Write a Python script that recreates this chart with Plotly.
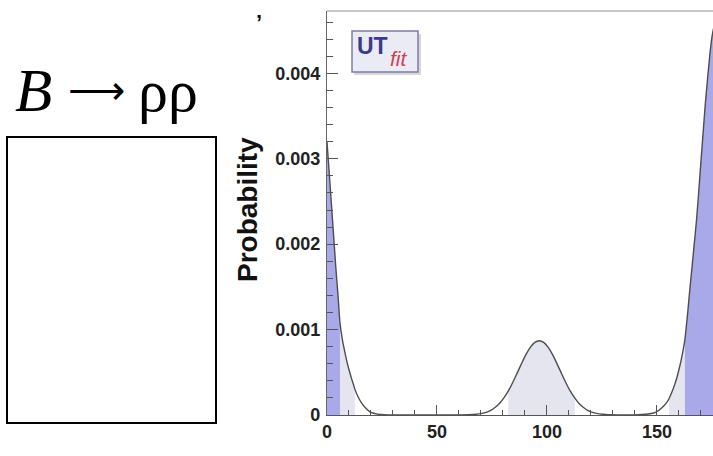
import plotly.graph_objects as go

# ---- data ----
alpha = [0, 1, 2, 3, 4, 5, 5.9, 7, 8, 9, 10, 11, 12, 12.7, 14, 16, 18, 20, 23, 26, 30,
         40, 50, 60, 66.5, 71.5, 74.5, 76.5, 78.5, 80.5, 82.4, 84.5, 86.5, 88.5, 90.5,
         92.5, 94.5, 96.5, 98.5, 100.5, 102.5, 104.5, 106.5, 108.5, 110.5, 112.7, 114.5,
         116.5, 118.5, 121.5, 126.5, 135, 140, 145, 148, 150, 152, 154, 155.5, 157, 158,
         159, 160, 161, 162, 162.7, 164, 165, 166, 167, 168, 169, 170, 171, 172, 173,
         174, 175, 176, 177, 178, 179, 180]
prob = [0.00320, 0.00284, 0.00247, 0.00210, 0.00173, 0.00140, 0.00108, 0.00088, 0.00075,
        0.00063, 0.00053, 0.00044, 0.00036, 0.00030, 0.00022, 0.00013, 0.00007, 0.00003,
        0.00001, 0.000003, 0.0,
        0.0, 0.0, 0.000001, 0.000005, 0.000025, 0.0000555, 0.00009, 0.000138, 0.000203,
        0.00028, 0.000384, 0.000493, 0.000605, 0.000709, 0.000794, 0.00085, 0.00087,
        0.00085, 0.000794, 0.000709, 0.000605, 0.000493, 0.000384, 0.000285, 0.000197,
        0.000138, 0.00009, 0.0000555, 0.000025, 0.000005, 0.0, 0.000002, 0.000008,
        0.00002, 0.00004, 0.00008, 0.00013, 0.00019, 0.00028, 0.00035, 0.00043, 0.00053,
        0.00064, 0.00077, 0.00088, 0.00120, 0.00148, 0.00174, 0.00201, 0.00228, 0.00261,
        0.00296, 0.00330, 0.00364, 0.00393, 0.00420, 0.00442, 0.00455, 0.00460, 0.00445,
        0.00400, 0.00320]

# credible-interval boundaries (degrees) read from the shading
dark_intervals = [(0, 5.9), (162.7, 180)]
light_intervals = [(5.9, 12.7), (82.4, 112.7), (155.5, 162.7)]

x_ticks = [0, 50, 100, 150]
y_ticks = [0, 0.001, 0.002, 0.003, 0.004]
y_tick_labels = ["0", "0.001", "0.002", "0.003", "0.004"]

DARK = "#a9a9ea"
LIGHT = "#e5e5ef"
LINE = "#4d4d4d"

fig = go.Figure()


def add_band(lo, hi, color):
    xs = [a for a in alpha if lo <= a <= hi]
    ys = [p for a, p in zip(alpha, prob) if lo <= a <= hi]
    fig.add_trace(go.Scatter(x=xs, y=ys, mode="lines", fill="tozeroy",
                             fillcolor=color, line=dict(width=0, color=color, shape="spline", smoothing=0.6),
                             hoverinfo="skip", showlegend=False))


for lo, hi in light_intervals:
    add_band(lo, hi, LIGHT)
for lo, hi in dark_intervals:
    add_band(lo, hi, DARK)

fig.add_trace(go.Scatter(x=alpha, y=prob, mode="lines",
                         line=dict(color=LINE, width=1.4, shape="spline", smoothing=0.6),
                         showlegend=False))

W, H = 713, 456
L, R, T, B = 327, 0, 11, 41
PW, PH = W - L - R, H - T - B


def px(xp):
    return (xp - L) / PW


def py(yp):
    return (H - B - yp) / PH


tickfont = dict(family="Liberation Sans, Arial, sans-serif", size=18, color="#222", weight="bold")

fig.update_layout(
    width=W, height=H,
    margin=dict(l=L, r=R, t=T, b=B, pad=0),
    paper_bgcolor="white", plot_bgcolor="white",
    xaxis=dict(range=[0, 175.5], tickvals=x_ticks, ticktext=[str(v) for v in x_ticks],
               ticks="inside", ticklen=10, tickwidth=1, tickcolor="#555",
               minor=dict(dtick=10, ticks="inside", ticklen=5, tickcolor="#555", tick0=0),
               showline=True, linecolor="#555", linewidth=1.2, showgrid=False, zeroline=False,
               tickfont=tickfont, fixedrange=True),
    yaxis=dict(range=[0, 0.00473], tickvals=y_ticks, ticktext=y_tick_labels,
               ticks="inside", ticklen=11, tickwidth=1, tickcolor="#555",
               minor=dict(dtick=0.0002, ticks="inside", ticklen=6, tickcolor="#555", tick0=0),
               showline=True, linecolor="#666", linewidth=1.2, showgrid=False, zeroline=False,
               tickfont=tickfont, ticklabelstandoff=2, fixedrange=True),
    showlegend=False,
)

shapes = [
    # top frame line
    dict(type="line", xref="paper", yref="paper", x0=0, x1=1, y0=1, y1=1,
         line=dict(color="#b5b5b5", width=1.5)),
    # empty box on the left
    dict(type="rect", xref="paper", yref="paper", x0=px(7), x1=px(216), y0=py(423), y1=py(137),
         line=dict(color="black", width=2), fillcolor="rgba(0,0,0,0)"),
    # UTfit logo shadow and box
    dict(type="rect", xref="paper", yref="paper", x0=px(354), x1=px(421), y0=py(75), y1=py(34),
         line=dict(width=0), fillcolor="#d8d8d8"),
    dict(type="rect", xref="paper", yref="paper", x0=px(352), x1=px(418), y0=py(72), y1=py(31),
         line=dict(color="#7c7cab", width=1.5), fillcolor="#ebebf6"),
]
fig.update_layout(shapes=shapes)

serif = "Liberation Serif, Times New Roman, serif"
annotations = [
    dict(text="<i>B</i>", xref="paper", yref="paper", x=px(13), y=py(91),
         xanchor="left", yanchor="middle", showarrow=False,
         font=dict(family=serif, size=61, color="black")),
    dict(text="⟶", xref="paper", yref="paper", x=px(66), y=py(91),
         xanchor="left", yanchor="middle", showarrow=False,
         font=dict(family=serif, size=40, color="black")),
    dict(text="ρρ", xref="paper", yref="paper", x=px(136), y=py(91),
         xanchor="left", yanchor="middle", showarrow=False,
         font=dict(family=serif, size=60, color="black")),
    dict(text="Probability", xref="paper", yref="paper", x=px(247), y=py(210),
         xanchor="center", yanchor="middle", textangle=-90, showarrow=False,
         font=dict(family="Liberation Sans, Arial, sans-serif", size=28, color="#111", weight="bold")),
    dict(text="UT", xref="paper", yref="paper", x=px(372), y=py(46),
         xanchor="center", yanchor="middle", showarrow=False,
         font=dict(family="Liberation Sans, Arial, sans-serif", size=23, color="#3b3b8c", weight="bold")),
    dict(text="<i>fit</i>", xref="paper", yref="paper", x=px(399), y=py(58),
         xanchor="center", yanchor="middle", showarrow=False,
         font=dict(family="Liberation Sans, Arial, sans-serif", size=21, color="#d0404e")),
    dict(text="’", xref="paper", yref="paper", x=px(259), y=py(22),
         xanchor="center", yanchor="middle", showarrow=False,
         font=dict(family="Liberation Sans, Arial, sans-serif", size=22, color="#111", weight="bold")),
    dict(text="α", xref="paper", yref="paper", x=px(704), y=py(447),
         xanchor="center", yanchor="top", showarrow=False,
         font=dict(family="Liberation Sans, Arial, sans-serif", size=22, color="#111", weight="bold")),
]
fig.update_layout(annotations=annotations)

fig.write_html("out.html", config={"displayModeBar": False})

# remove the browser's default page margin so the figure sits at the window's corner
with open("out.html", "r", encoding="utf-8") as f:
    html = f.read()
html = html.replace("<head>", "<head><style>html,body{margin:0;padding:0;overflow:hidden;}</style>", 1)
with open("out.html", "w", encoding="utf-8") as f:
    f.write(html)
